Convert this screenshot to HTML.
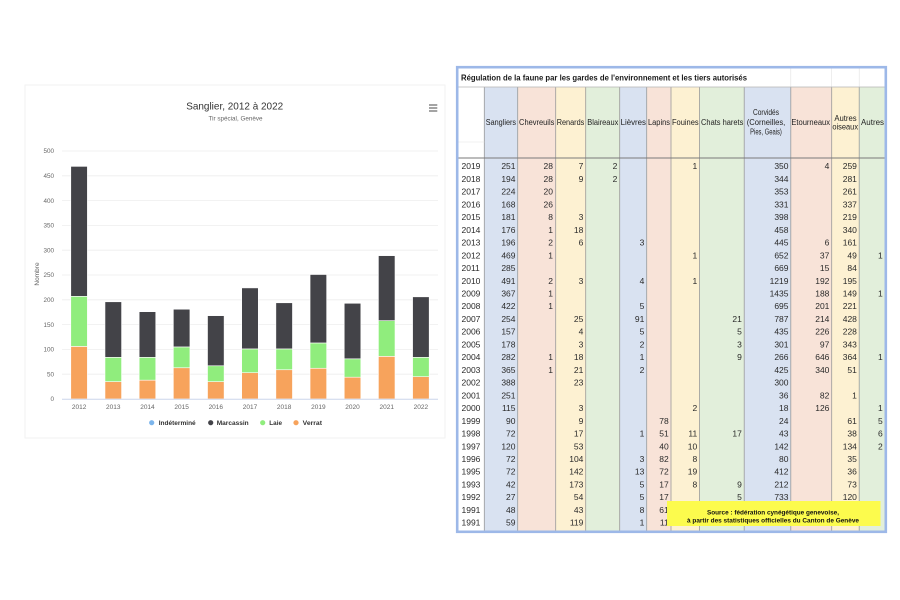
<!DOCTYPE html>
<html><head><meta charset="utf-8"><style>
html,body{margin:0;padding:0;background:#fff;width:900px;height:600px;overflow:hidden}
svg{display:block;font-family:"Liberation Sans",Arial,sans-serif}
</style></head><body>
<svg width="900" height="600" viewBox="0 0 900 600" xmlns="http://www.w3.org/2000/svg">
<rect x="0" y="0" width="900" height="600" fill="#fff"/>
<!-- Chart container -->
<rect x="25" y="85" width="420" height="353" fill="#fff" stroke="#f2f2f2" stroke-width="1"/>
<text x="234.7" y="109.3" text-anchor="middle" font-size="10.5" fill="#333" textLength="97" lengthAdjust="spacingAndGlyphs">Sanglier, 2012 à 2022</text>
<text x="235.5" y="120.7" text-anchor="middle" font-size="6.4" fill="#666" textLength="54" lengthAdjust="spacingAndGlyphs">Tir spécial, Genève</text>
<g stroke="#666" stroke-width="1.2"><line x1="429" y1="105" x2="437.3" y2="105"/><line x1="429" y1="108" x2="437.3" y2="108"/><line x1="429" y1="111" x2="437.3" y2="111"/></g>
<!-- grid -->
<g stroke="#eeeeee" stroke-width="0.8">
<line x1="62" y1="151" x2="438" y2="151"/><line x1="62" y1="175.8" x2="438" y2="175.8"/><line x1="62" y1="200.6" x2="438" y2="200.6"/><line x1="62" y1="225.4" x2="438" y2="225.4"/><line x1="62" y1="250.2" x2="438" y2="250.2"/><line x1="62" y1="275" x2="438" y2="275"/><line x1="62" y1="299.8" x2="438" y2="299.8"/><line x1="62" y1="324.6" x2="438" y2="324.6"/><line x1="62" y1="349.4" x2="438" y2="349.4"/><line x1="62" y1="374.2" x2="438" y2="374.2"/>
</g>
<g font-size="6.3" fill="#666" text-anchor="end">
<text x="54" y="153.2">500</text><text x="54" y="178">450</text><text x="54" y="202.8">400</text><text x="54" y="227.6">350</text><text x="54" y="252.4">300</text><text x="54" y="277.2">250</text><text x="54" y="302">200</text><text x="54" y="326.8">150</text><text x="54" y="351.6">100</text><text x="54" y="376.4">50</text><text x="54" y="401.2">0</text>
</g>
<text transform="translate(39,274) rotate(-90)" text-anchor="middle" font-size="6.5" fill="#666">Nombre</text>
<!-- bars -->
<g stroke="#fff" stroke-width="0.6">
<g fill="#f7a35c">
<rect x="70.79" y="346.42" width="16.6" height="52.58"/>
<rect x="104.97" y="381.64" width="16.6" height="17.36"/>
<rect x="139.15" y="380.15" width="16.6" height="18.85"/>
<rect x="173.33" y="367.75" width="16.6" height="31.25"/>
<rect x="207.51" y="381.64" width="16.6" height="17.36"/>
<rect x="241.69" y="372.71" width="16.6" height="26.29"/>
<rect x="275.87" y="369.74" width="16.6" height="29.26"/>
<rect x="310.05" y="368.25" width="16.6" height="30.75"/>
<rect x="344.23" y="377.18" width="16.6" height="21.82"/>
<rect x="378.41" y="356.34" width="16.6" height="42.66"/>
<rect x="412.59" y="376.68" width="16.6" height="22.32"/>
</g>
<g fill="#90ed7d">
<rect x="70.79" y="296.33" width="16.6" height="50.09"/>
<rect x="104.97" y="357.34" width="16.6" height="24.30"/>
<rect x="139.15" y="357.34" width="16.6" height="22.81"/>
<rect x="173.33" y="346.92" width="16.6" height="20.83"/>
<rect x="207.51" y="365.77" width="16.6" height="15.87"/>
<rect x="241.69" y="348.90" width="16.6" height="23.81"/>
<rect x="275.87" y="348.90" width="16.6" height="20.84"/>
<rect x="310.05" y="342.95" width="16.6" height="25.30"/>
<rect x="344.23" y="358.82" width="16.6" height="18.36"/>
<rect x="378.41" y="320.63" width="16.6" height="35.71"/>
<rect x="412.59" y="357.34" width="16.6" height="19.34"/>
</g>
<g fill="#434348">
<rect x="70.79" y="166.38" width="16.6" height="129.95"/>
<rect x="104.97" y="301.78" width="16.6" height="55.56"/>
<rect x="139.15" y="311.70" width="16.6" height="45.64"/>
<rect x="173.33" y="309.22" width="16.6" height="37.70"/>
<rect x="207.51" y="315.67" width="16.6" height="50.10"/>
<rect x="241.69" y="287.90" width="16.6" height="61.00"/>
<rect x="275.87" y="302.78" width="16.6" height="46.12"/>
<rect x="310.05" y="274.50" width="16.6" height="68.45"/>
<rect x="344.23" y="303.27" width="16.6" height="55.55"/>
<rect x="378.41" y="255.66" width="16.6" height="64.97"/>
<rect x="412.59" y="296.82" width="16.6" height="60.52"/>
</g>
</g>
<line x1="62" y1="399.3" x2="438" y2="399.3" stroke="#ccd6eb" stroke-width="1"/>
<g font-size="6.5" fill="#666" text-anchor="middle">
<text x="79.09" y="409">2012</text><text x="113.27" y="409">2013</text><text x="147.45" y="409">2014</text><text x="181.63" y="409">2015</text><text x="215.81" y="409">2016</text><text x="249.99" y="409">2017</text><text x="284.17" y="409">2018</text><text x="318.35" y="409">2019</text><text x="352.53" y="409">2020</text><text x="386.71" y="409">2021</text><text x="420.89" y="409">2022</text>
</g>
<!-- legend -->
<circle cx="151.7" cy="422.7" r="2.6" fill="#7cb5ec"/>
<circle cx="210.7" cy="422.7" r="2.6" fill="#434348"/>
<circle cx="262.7" cy="422.7" r="2.6" fill="#90ed7d"/>
<circle cx="296" cy="422.7" r="2.6" fill="#f7a35c"/>
<g font-size="6.6" font-weight="bold" fill="#333">
<text x="158.7" y="425" textLength="37" lengthAdjust="spacingAndGlyphs">Indéterminé</text>
<text x="216.7" y="425" textLength="32" lengthAdjust="spacingAndGlyphs">Marcassin</text>
<text x="269.3" y="425" textLength="12.7" lengthAdjust="spacingAndGlyphs">Laie</text>
<text x="302.7" y="425" textLength="19.3" lengthAdjust="spacingAndGlyphs">Verrat</text>
</g>

<!-- TABLE -->
<rect x="457.2" y="67.2" width="428.6" height="464.6" fill="#fff"/>
<g>
<rect x="484.3" y="87" width="33.4" height="444" fill="#d9e2f1"/>
<rect x="517.7" y="87" width="38" height="444" fill="#f8e3d8"/>
<rect x="555.7" y="87" width="30" height="444" fill="#fdf1d2"/>
<rect x="585.7" y="87" width="34" height="444" fill="#e2efdb"/>
<rect x="619.7" y="87" width="27" height="444" fill="#d9e2f1"/>
<rect x="646.7" y="87" width="24.3" height="444" fill="#f8e3d8"/>
<rect x="671" y="87" width="28.5" height="444" fill="#fdf1d2"/>
<rect x="699.5" y="87" width="44.7" height="444" fill="#e2efdb"/>
<rect x="744.2" y="87" width="46.6" height="444" fill="#d9e2f1"/>
<rect x="790.8" y="87" width="40.9" height="444" fill="#f8e3d8"/>
<rect x="831.7" y="87" width="27.5" height="444" fill="#fdf1d2"/>
<rect x="859.2" y="87" width="25.8" height="444" fill="#e2efdb"/>
</g>
<g stroke="#9a9a9a" stroke-width="0.8">
<line x1="484.3" y1="87" x2="484.3" y2="531"/><line x1="517.7" y1="87" x2="517.7" y2="531"/><line x1="555.7" y1="87" x2="555.7" y2="531"/><line x1="585.7" y1="87" x2="585.7" y2="531"/><line x1="619.7" y1="87" x2="619.7" y2="531"/><line x1="646.7" y1="87" x2="646.7" y2="531"/><line x1="671" y1="87" x2="671" y2="531"/><line x1="699.5" y1="87" x2="699.5" y2="531"/><line x1="744.2" y1="87" x2="744.2" y2="531"/><line x1="790.8" y1="87" x2="790.8" y2="531"/><line x1="831.7" y1="87" x2="831.7" y2="531"/><line x1="859.2" y1="87" x2="859.2" y2="531"/>
</g>
<g stroke="#e2e2e2" stroke-width="0.6">
<line x1="790.8" y1="67" x2="790.8" y2="87"/><line x1="831.7" y1="67" x2="831.7" y2="87"/><line x1="859.2" y1="67" x2="859.2" y2="87"/>
<line x1="458" y1="142" x2="484.3" y2="142"/>
</g>
<line x1="458" y1="87" x2="886" y2="87" stroke="#b5b5b5" stroke-width="0.8"/>
<line x1="458" y1="158" x2="886" y2="158" stroke="#7a7a7a" stroke-width="0.9"/>
<text x="461" y="80.5" font-size="8.3" font-weight="bold" fill="#1a1a1a" textLength="286" lengthAdjust="spacingAndGlyphs">Régulation de la faune par les gardes de l'environnement et les tiers autorisés</text>
<g font-size="8" fill="#222" text-anchor="middle">
<text x="500.9" y="125" textLength="30.3" lengthAdjust="spacingAndGlyphs">Sangliers</text>
<text x="536.7" y="125" textLength="35.3" lengthAdjust="spacingAndGlyphs">Chevreuils</text>
<text x="570.5" y="125" textLength="27.6" lengthAdjust="spacingAndGlyphs">Renards</text>
<text x="602.8" y="125" textLength="31" lengthAdjust="spacingAndGlyphs">Blaireaux</text>
<text x="633.3" y="125" textLength="25.3" lengthAdjust="spacingAndGlyphs">Lièvres</text>
<text x="659" y="125" textLength="22" lengthAdjust="spacingAndGlyphs">Lapins</text>
<text x="685.3" y="125" textLength="26.7" lengthAdjust="spacingAndGlyphs">Fouines</text>
<text x="722.2" y="125" textLength="42.3" lengthAdjust="spacingAndGlyphs">Chats harets</text>
<text x="766" y="115" textLength="26" lengthAdjust="spacingAndGlyphs">Corvidés</text>
<text x="766" y="124.8" textLength="38.6" lengthAdjust="spacingAndGlyphs">(Corneilles,</text>
<text x="766" y="134.5" textLength="31.7" lengthAdjust="spacingAndGlyphs">Pies, Geais)</text>
<text x="810.7" y="125" textLength="38.7" lengthAdjust="spacingAndGlyphs">Etourneaux</text>
<text x="845.5" y="121" textLength="22.3" lengthAdjust="spacingAndGlyphs">Autres</text>
<text x="845.2" y="129.5" textLength="25.7" lengthAdjust="spacingAndGlyphs">oiseaux</text>
<text x="872.5" y="125" textLength="23" lengthAdjust="spacingAndGlyphs">Autres</text>
</g>
<g font-size="8.5" fill="#2a2a2a">
<g transform="translate(461.5,0)">
<text y="169.2">2019</text><text y="181.9">2018</text><text y="194.7">2017</text><text y="207.4">2016</text><text y="220.1">2015</text><text y="232.9">2014</text><text y="245.6">2013</text><text y="258.3">2012</text><text y="271">2011</text><text y="283.8">2010</text><text y="296.5">2009</text><text y="309.2">2008</text><text y="322">2007</text><text y="334.7">2006</text><text y="347.4">2005</text><text y="360.2">2004</text><text y="372.9">2003</text><text y="385.6">2002</text><text y="398.3">2001</text><text y="411.1">2000</text><text y="423.8">1999</text><text y="436.5">1998</text><text y="449.3">1997</text><text y="462">1996</text><text y="474.7">1995</text><text y="487.5">1993</text><text y="500.2">1992</text><text y="512.9">1991</text><text y="525.6">1991</text>
</g>
<g text-anchor="end">
<g transform="translate(515.5,0)">
<text y="169.2">251</text><text y="181.9">194</text><text y="194.7">224</text><text y="207.4">168</text><text y="220.1">181</text><text y="232.9">176</text><text y="245.6">196</text><text y="258.3">469</text><text y="271">285</text><text y="283.8">491</text><text y="296.5">367</text><text y="309.2">422</text><text y="322">254</text><text y="334.7">157</text><text y="347.4">178</text><text y="360.2">282</text><text y="372.9">365</text><text y="385.6">388</text><text y="398.3">251</text><text y="411.1">115</text><text y="423.8">90</text><text y="436.5">72</text><text y="449.3">120</text><text y="462">72</text><text y="474.7">72</text><text y="487.5">42</text><text y="500.2">27</text><text y="512.9">48</text><text y="525.6">59</text>
</g>
<g transform="translate(553,0)">
<text y="169.2">28</text><text y="181.9">28</text><text y="194.7">20</text><text y="207.4">26</text><text y="220.1">8</text><text y="232.9">1</text><text y="245.6">2</text><text y="258.3">1</text><text y="283.8">2</text><text y="296.5">1</text><text y="309.2">1</text><text y="360.2">1</text><text y="372.9">1</text>
</g>
<g transform="translate(583.4,0)">
<text y="169.2">7</text><text y="181.9">9</text><text y="220.1">3</text><text y="232.9">18</text><text y="245.6">6</text><text y="283.8">3</text><text y="322">25</text><text y="334.7">4</text><text y="347.4">3</text><text y="360.2">18</text><text y="372.9">21</text><text y="385.6">23</text><text y="411.1">3</text><text y="423.8">9</text><text y="436.5">17</text><text y="449.3">53</text><text y="462">104</text><text y="474.7">142</text><text y="487.5">173</text><text y="500.2">54</text><text y="512.9">43</text><text y="525.6">119</text>
</g>
<g transform="translate(617.4,0)">
<text y="169.2">2</text><text y="181.9">2</text>
</g>
<g transform="translate(644.4,0)">
<text y="245.6">3</text><text y="283.8">4</text><text y="309.2">5</text><text y="322">91</text><text y="334.7">5</text><text y="347.4">2</text><text y="360.2">1</text><text y="372.9">2</text><text y="436.5">1</text><text y="462">3</text><text y="474.7">13</text><text y="487.5">5</text><text y="500.2">5</text><text y="512.9">8</text><text y="525.6">1</text>
</g>
<g transform="translate(668.7,0)">
<text y="423.8">78</text><text y="436.5">51</text><text y="449.3">40</text><text y="462">82</text><text y="474.7">72</text><text y="487.5">17</text><text y="500.2">17</text><text y="512.9">61</text><text y="525.6">11</text>
</g>
<g transform="translate(697.2,0)">
<text y="169.2">1</text><text y="258.3">1</text><text y="283.8">1</text><text y="411.1">2</text><text y="436.5">11</text><text y="449.3">10</text><text y="462">8</text><text y="474.7">19</text><text y="487.5">8</text>
</g>
<g transform="translate(741.9,0)">
<text y="322">21</text><text y="334.7">5</text><text y="347.4">3</text><text y="360.2">9</text><text y="436.5">17</text><text y="487.5">9</text><text y="500.2">5</text>
</g>
<g transform="translate(788.5,0)">
<text y="169.2">350</text><text y="181.9">344</text><text y="194.7">353</text><text y="207.4">331</text><text y="220.1">398</text><text y="232.9">458</text><text y="245.6">445</text><text y="258.3">652</text><text y="271">669</text><text y="283.8">1219</text><text y="296.5">1435</text><text y="309.2">695</text><text y="322">787</text><text y="334.7">435</text><text y="347.4">301</text><text y="360.2">266</text><text y="372.9">425</text><text y="385.6">300</text><text y="398.3">36</text><text y="411.1">18</text><text y="423.8">24</text><text y="436.5">43</text><text y="449.3">142</text><text y="462">80</text><text y="474.7">412</text><text y="487.5">212</text><text y="500.2">733</text>
</g>
<g transform="translate(829.4,0)">
<text y="169.2">4</text><text y="245.6">6</text><text y="258.3">37</text><text y="271">15</text><text y="283.8">192</text><text y="296.5">188</text><text y="309.2">201</text><text y="322">214</text><text y="334.7">226</text><text y="347.4">97</text><text y="360.2">646</text><text y="372.9">340</text><text y="398.3">82</text><text y="411.1">126</text>
</g>
<g transform="translate(856.9,0)">
<text y="169.2">259</text><text y="181.9">281</text><text y="194.7">261</text><text y="207.4">337</text><text y="220.1">219</text><text y="232.9">340</text><text y="245.6">161</text><text y="258.3">49</text><text y="271">84</text><text y="283.8">195</text><text y="296.5">149</text><text y="309.2">221</text><text y="322">428</text><text y="334.7">228</text><text y="347.4">343</text><text y="360.2">364</text><text y="372.9">51</text><text y="398.3">1</text><text y="423.8">61</text><text y="436.5">38</text><text y="449.3">134</text><text y="462">35</text><text y="474.7">36</text><text y="487.5">73</text><text y="500.2">120</text>
</g>
<g transform="translate(882.7,0)">
<text y="258.3">1</text><text y="296.5">1</text><text y="360.2">1</text><text y="411.1">1</text><text y="423.8">5</text><text y="436.5">6</text><text y="449.3">2</text>
</g>
</g>
</g>
<!-- Source box -->
<rect x="667" y="501" width="213.5" height="25" fill="#fcfb4d"/>
<g font-size="6" font-weight="bold" fill="#111" text-anchor="middle">
<text x="773" y="514.4" textLength="132" lengthAdjust="spacingAndGlyphs">Source : fédération cynégétique genevoise,</text>
<text x="773" y="522.4" textLength="172" lengthAdjust="spacingAndGlyphs">à partir des statistiques officielles du Canton de Genève</text>
</g>
<!-- outer border -->
<rect x="457.2" y="67.2" width="428.6" height="464.6" fill="none" stroke="#9db8e8" stroke-width="2.6"/>
</svg>
</body></html>
